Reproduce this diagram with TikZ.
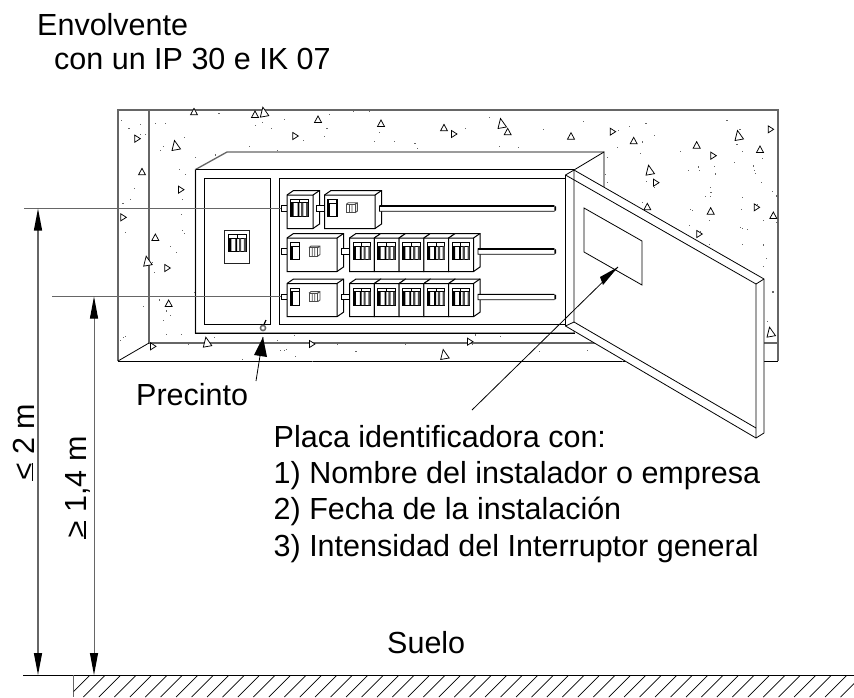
\documentclass[tikz,border=0pt]{standalone}
\usepackage{fontspec}
\setmainfont{Liberation Sans}
\usetikzlibrary{arrows.meta}
\definecolor{ln}{HTML}{222222}
\definecolor{gl}{HTML}{666666}
\tikzset{
  x=1pt,y=-1pt,
  thin line/.style={draw=black,line width=.8pt},
  gray line/.style={draw=gl,line width=1.3pt},
  lbl/.style={inner sep=0pt,anchor=base west,text=black,font=\fontsize{30.5}{30.5}\selectfont},
  stone/.style={draw=black,line width=.75pt,fill=white,line join=miter},
  dimtips/.style={{Triangle[length=22pt,width=8pt,black]}-{Triangle[length=22pt,width=8pt,black]}},
}
% 3D box: x0 y0 x1 y1 (front face)
\newcommand{\mybox}[4]{%
  \filldraw[fill=white,draw=black,line width=1pt] (#1,#2) -- (#1+6.5,#2-4.5) -- (#3+6.5,#2-4.5) -- (#3+6.5,#4-4.5) -- (#3,#4) -- (#1,#4) -- cycle;
  \draw[draw=black,line width=1pt] (#1,#2) -- (#3,#2) -- (#3,#4) (#3,#2) -- (#3+6.5,#2-4.5);
}
% Wide switch at top-left corner
\newcommand{\wsw}[2]{%
  \begin{scope}[shift={(#1,#2)}]
  \filldraw[fill=white,draw=black,line width=.9pt] (0,0) rectangle (17.5,17);
  \draw[black,line width=.9pt] (0,3.6) -- (17.5,3.6) (8.7,0) -- (8.7,3.6);
  \fill[black] (0,3.6) rectangle (2.8,17) (6.8,3.6) rectangle (8.6,17);
  \fill[black!70] (10.5,3.6) rectangle (12.7,17) (15.3,3.6) rectangle (17.5,17);
  \end{scope}}
% Narrow handle + small cube
\newcommand{\nsw}[2]{%
  \begin{scope}[shift={(#1,#2)}]
  \filldraw[fill=white,draw=black,line width=1.2pt] (0,0) rectangle (9,17);
  \draw[black,line width=.8pt] (0,3.6) -- (9,3.6);
  \fill[black] (0,3.6) rectangle (1.8,17);
  \filldraw[fill=white,draw=black!70,line width=.9pt] (18.3,5) rectangle (27,13.4);
  \draw[black!70,line width=.9pt] (18.3,5) -- (20.3,3.4) -- (29.3,3.4) -- (29.3,11.8) -- (27,13.4) (27,5) -- (29.3,3.4) (21.5,5) -- (21.5,13.4) (24,5) -- (24,13.4);
  \end{scope}}
% stub between x0 and x1 with centre y
\newcommand{\stub}[3]{\filldraw[fill=white,draw=black,line width=.9pt] (#1,#3-2.8) rectangle (#2,#3+2.8);}
% long bar
\newcommand{\longbar}[3]{%
  \filldraw[fill=white,draw=black,line width=.8pt] (#1,#3-2.8) -- (#2,#3-2.8) -- (#2+1.6,#3-1.6) -- (#2+1.6,#3+1.6) -- (#2,#3+2.8) -- (#1,#3+2.8) -- cycle;
  \draw[black,line width=1.6pt] (#1,#3-2.4) -- (#2,#3-2.4);
  \draw[gl,line width=1pt] (#2,#3-2.8) -- (#2,#3+2.8);}
\newcommand{\tri}[2]{\draw[stone] (#1,#2-4) -- (#1+3.5,#2+2.5) -- (#1-3.5,#2+2.5) -- cycle;}
\newcommand{\trib}[2]{\draw[stone] (#1-1.5,#2-5.5) -- (#1+4.5,#2+3) -- (#1-4,#2+4.5) -- cycle;}
\newcommand{\trir}[2]{\draw[stone] (#1-2.5,#2-3.5) -- (#1+3,#2) -- (#1-2.5,#2+3.5) -- cycle;}
\begin{document}
\begin{tikzpicture}
\useasboundingbox (0,0) rectangle (854,697);
\fill[white] (0,0) rectangle (854,697);

% ----- wall
\draw[gray line] (118,361) -- (118,110) -- (778,110) -- (778,361);
\draw[thin line,line width=.9pt] (118,361) -- (778,361);
\draw[gray line] (149,110) -- (149,343) -- (778,343);
\draw[thin line] (118,361) -- (149,343);

% ----- concrete dots
\begin{scope}
\clip (118,110) rectangle (778,361);
\pgfmathsetseed{4711}
\foreach \i in {1,...,330}{
  \pgfmathsetmacro{\px}{118+660*rnd}
  \pgfmathsetmacro{\py}{110+251*rnd}
  \fill[gl] (\px,\py) rectangle ++(1.1,1.1);
}
\end{scope}

% ----- concrete stones
\foreach \a/\b in {282/37,465/45,654/60,843/72,126/217,166/414,206/612}{
  \pgfmathsetmacro{\px}{100+\a/3}\pgfmathsetmacro{\py}{100+\b/3}\tri{\px}{\py}}
\foreach \a/\b in {493/38,228/138,143/485,322/728}{
  \pgfmathsetmacro{\px}{100+\a/3}\pgfmathsetmacro{\py}{100+\b/3}\trib{\px}{\py}}
\foreach \a/\b in {112/116,586/108,243/269,70/352,202/504,636/732,159/739}{
  \pgfmathsetmacro{\px}{100+\a/3}\pgfmathsetmacro{\py}{100+\b/3}\trir{\px}{\py}}
\foreach \a/\b in {42/85,233/97,423/110,611/124,990/150,800/137,652/322,842/335,1030/348}{
  \pgfmathsetmacro{\px}{430+\a/3}\pgfmathsetmacro{\py}{100+\b/3}\tri{\px}{\py}}
\foreach \a/\b in {216/72,927/108,660/212,1023/698,44/765}{
  \pgfmathsetmacro{\px}{430+\a/3}\pgfmathsetmacro{\py}{100+\b/3}\trib{\px}{\py}}
\foreach \a/\b in {72/102,548/95,1022/88,850/167,678/248,980/322,808/402,120/725}{
  \pgfmathsetmacro{\px}{430+\a/3}\pgfmathsetmacro{\py}{100+\b/3}\trir{\px}{\py}}

% ----- enclosure
\filldraw[fill=white,draw=gl,line width=1.3pt] (195.5,169.5) -- (227,152) -- (604,152) -- (604,200) -- (574,333) -- (195.5,333) -- cycle;
\draw[thin line,line width=1pt] (195.5,169.5) -- (574,169.5) (195.5,169.5) -- (195.5,333) -- (575,333);
\draw[thin line] (574,170) -- (604,152);
\draw[thin line,line width=1pt] (204,178) rectangle (270.5,324);
\draw[thin line,line width=1pt] (566,178) -- (279,178) -- (279,324) -- (566,324);

% main switch
\draw[thin line,draw=ln] (224.7,230.3) rectangle (249.7,263.7);
\wsw{228.5}{234.7}

% ----- row 1
\stub{281}{287}{208.5}
\mybox{287}{195}{313}{228.5}
\wsw{290.7}{199.3}
\stub{316.7}{324.5}{208.5}
\mybox{324.5}{195}{375}{228.5}
\nsw{328}{199.3}
\longbar{379.5}{554}{208.5}

% ----- rows 2, 3
\foreach \t/\b in {238/271.5,283.5/316.7}{
  \pgfmathsetmacro{\m}{\t+13.5}
  \pgfmathsetmacro{\s}{\t+4.7}
  \stub{281}{287}{\m}
  \mybox{287}{\t}{337}{\b}
  \nsw{290.7}{\s}
  \stub{341}{349.5}{\m}
  \foreach \q [evaluate=\q as \xa using 349.5+24.8*\q, evaluate=\q as \xb using 349.5+24.8*(\q+1), evaluate=\q as \xc using 353+24.8*\q] in {0,...,4}{
    \mybox{\xa}{\t}{\xb}{\b}
    \wsw{\xc}{\s}
  }
  \longbar{478}{554}{\m}
}

% ----- dimension extension lines
\draw[gray line] (24,208.5) -- (281,208.5);
\draw[gray line,line width=1pt] (52,296.5) -- (281,296.5);

% ----- seal
\coordinate (seal) at (263,328);
\draw[gl,line width=1.5pt] (seal) circle (2.6);
\draw[black,line width=1.2pt] (264,324.5) -- (266,320);

% ----- door
\filldraw[fill=white,thin line] (565.5,175) -- (574,170) -- (764,279) -- (764,433) -- (756,438) -- (565.5,326) -- cycle;
\draw[thin line] (565.5,175) -- (756,284) -- (756,438);
\draw[thin line] (756,284) -- (764,279);
\draw[thin line] (574,170) -- (574,322) -- (756,428);
\draw[thin line] (574,322) -- (565.5,326);
\coordinate (p1) at (584,208);
\draw[thin line] (p1) -- (642,241) -- (642,285) -- (584,252) -- cycle;

% ----- leaders
\coordinate (pla) at (472,410);
\coordinate (plb) at (618,267);
\draw[thin line] (pla) -- (plb);
\fill[black] (618,267) -- (603,285) -- (600,277) -- cycle;
\coordinate (pra) at (256,381);
\coordinate (prb) at (263,337);
\draw[thin line] (pra) -- (prb);
\fill[black] (prb) -- (267,357) -- (254,355) -- cycle;

% ----- ground
\draw[black,line width=1pt] (23,675) -- (854,675);
\draw[gray line] (73.5,675) -- (73.5,697);
\begin{scope}
\clip (73.5,675) rectangle (854,697);
\foreach \i in {0,...,56}{
  \draw[black,line width=.7pt] (68+15.45*\i,697) -- ++(22,-22);
}
\end{scope}

% ----- dimensions
\coordinate (d1a) at (38,208.5);
\coordinate (d1b) at (38,675);
\coordinate (d2a) at (94,296.5);
\coordinate (d2b) at (94,675);
\draw[gray line,dimtips] (d1a) -- (d1b);
\draw[gray line,line width=1pt,dimtips] (d2a) -- (d2b);

% ----- text
\node[lbl] (t1) at (37,35) {Envolvente};
\node[lbl] (t2) at (54,69) {con un IP 30 e IK 07};
\node[lbl] (t3) at (136,405) {Precinto};
\node[lbl] (t4) at (273.5,447.7) {Placa identificadora con:};
\node[lbl] (t5) at (273.5,483.3) {1) Nombre del instalador o empresa};
\node[lbl] (t6) at (273.5,519) {2) Fecha de la instalación};
\node[lbl] (t7) at (273.5,556.5) {3) Intensidad del Interruptor general};
\node[lbl] (t8) at (387,653) {Suelo};
\node[lbl,rotate=90] (t9) at (34.3,481) {\rlap{\rule[.03em]{.58em}{.05em}}< 2 m};
\node[lbl,rotate=90] (t10) at (86.7,539) {\rlap{\rule[.03em]{.58em}{.05em}}> 1,4 m};
\end{tikzpicture}
\end{document}
